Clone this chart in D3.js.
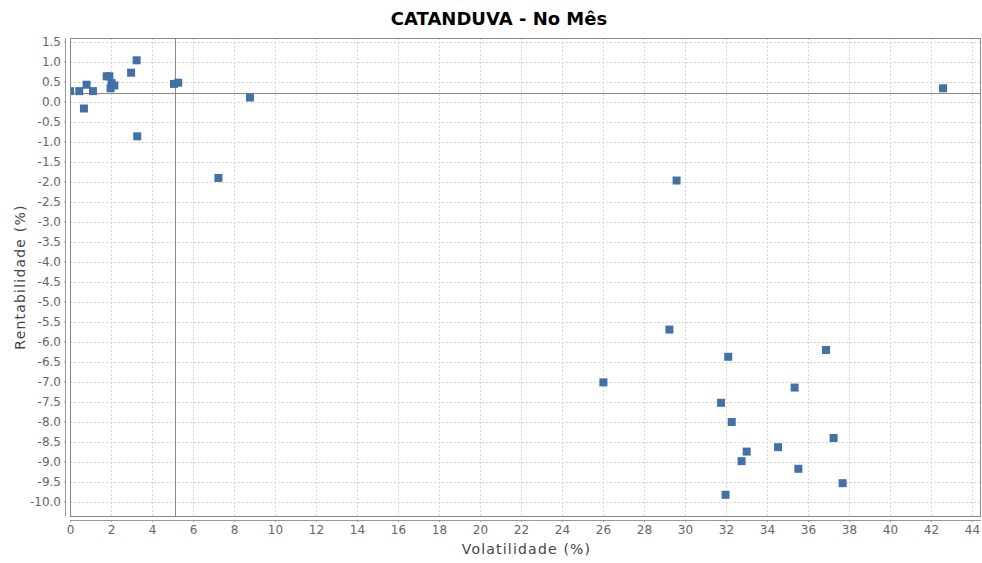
<!DOCTYPE html>
<html><head><meta charset="utf-8">
<script src="https://cdn.jsdelivr.net/npm/d3@7"></script>
<style>body{margin:0;background:#fff;}svg{display:block;}</style>
</head><body>
<svg id="chart" width="982" height="563"></svg>
<script>
const volatility = [0.0, 0.45, 0.81, 0.68, 1.12, 1.79, 1.92, 2.03, 2.16, 1.98, 2.98, 3.25, 3.28, 5.07, 5.28, 8.78, 7.24, 42.59,
  29.59, 29.24, 36.88, 32.11, 26.02, 35.35, 31.76, 32.28, 37.25, 34.54, 33.01, 32.76, 35.53, 37.69, 31.98];
const returns = [0.26, 0.26, 0.42, -0.175, 0.26, 0.63, 0.63, 0.46, 0.40, 0.33, 0.72, 1.03, -0.87, 0.44, 0.47, 0.10, -1.91, 0.33,
  -1.975, -5.70, -6.21, -6.38, -7.02, -7.15, -7.53, -8.01, -8.41, -8.64, -8.75, -8.99, -9.18, -9.54, -9.83];
const xTicks = d3.range(0, 45, 2);
const yTicks = d3.range(-10, 1.51, 0.5);
const markerX = [5.1];
const markerY = [0.22];
const title = "CATANDUVA - No Mês";

const svg = d3.select("#chart");
const L = 70, R = 981, T = 38, B = 516;
const x = d3.scaleLinear().domain([0, 44.44]).range([L, R]);
const y = d3.scaleLinear().domain([-10.36, 1.5875]).range([B, T]);

svg.append("text").attr("x", 499).attr("y", 25).attr("text-anchor", "middle")
  .attr("font-family", "DejaVu Sans").attr("font-weight", "bold").attr("font-size", 18)
  .attr("fill", "#000").text(title);

svg.append("rect").attr("x", L).attr("y", T).attr("width", R - L).attr("height", B - T).attr("fill", "#fff");

const g = svg.append("g");
g.selectAll(".gx").data(xTicks).join("line")
  .attr("x1", d => Math.round(x(d)) + 0.5).attr("x2", d => Math.round(x(d)) + 0.5).attr("y1", T).attr("y2", B)
  .attr("stroke", "#d4d4d4").attr("stroke-dasharray", "2,2");
g.selectAll(".gy").data(yTicks).join("line")
  .attr("y1", d => Math.round(y(d)) + 0.5).attr("y2", d => Math.round(y(d)) + 0.5).attr("x1", L).attr("x2", R)
  .attr("stroke", "#d4d4d4").attr("stroke-dasharray", "2,2");

svg.selectAll(".mx").data(markerX).join("line")
  .attr("x1", d => Math.round(x(d)) + 0.5).attr("x2", d => Math.round(x(d)) + 0.5).attr("y1", T).attr("y2", B)
  .attr("stroke", "#8a8a8a").attr("stroke-width", 1);
svg.selectAll(".my").data(markerY).join("line")
  .attr("y1", d => Math.round(y(d)) + 0.5).attr("y2", d => Math.round(y(d)) + 0.5).attr("x1", L).attr("x2", R)
  .attr("stroke", "#8a8a8a").attr("stroke-width", 1);

svg.append("clipPath").attr("id", "clip").append("rect")
  .attr("x", L).attr("y", T).attr("width", R - L).attr("height", B - T);
svg.append("g").attr("clip-path", "url(#clip)").selectAll("rect.pt").data(volatility).join("rect")
  .attr("x", (d) => x(d) - 4).attr("y", (d, i) => y(returns[i]) - 4)
  .attr("width", 8).attr("height", 8).attr("fill", "#4470a8");

svg.append("rect").attr("x", L + 0.5).attr("y", T + 0.5).attr("width", R - L - 1).attr("height", B - T)
  .attr("fill", "none").attr("stroke", "#888");

const xAxis = d3.axisBottom(x).tickValues(xTicks).tickFormat(d3.format("d")).tickSize(2).tickSizeOuter(0);
const ax = svg.append("g").attr("transform", `translate(0,${B + 4})`).call(xAxis);
const yAxis = d3.axisLeft(y).tickValues(yTicks).tickFormat(d3.format(".1f")).tickSize(2).tickSizeOuter(0);
const ay = svg.append("g").attr("transform", `translate(${L - 4},0)`).call(yAxis);
[ax, ay].forEach(a => {
  a.select(".domain").attr("stroke", "#999");
  a.selectAll(".tick line").attr("stroke", "#999");
  a.selectAll("text").attr("font-family", "DejaVu Sans").attr("font-size", 12).attr("fill", "#666");
});
ax.select(".domain").attr("d", `M${L},0.5H${R}`);
ay.select(".domain").attr("d", `M-0.5,${T}V${B}`);
ay.selectAll("text").attr("x", -5).text(d => d3.format(".1f")(d).replace("−", "-"));

svg.append("text").attr("x", (L + R) / 2 + 1).attr("y", 554).attr("text-anchor", "middle")
  .attr("font-family", "DejaVu Sans").attr("font-size", 14).attr("letter-spacing", 1.2)
  .attr("fill", "#444").text("Volatilidade (%)");
svg.append("text").attr("transform", `translate(25,${(T + B) / 2}) rotate(-90)`).attr("text-anchor", "middle")
  .attr("font-family", "DejaVu Sans").attr("font-size", 14).attr("letter-spacing", 1.2)
  .attr("fill", "#444").text("Rentabilidade (%)");
</script>
</body></html>
